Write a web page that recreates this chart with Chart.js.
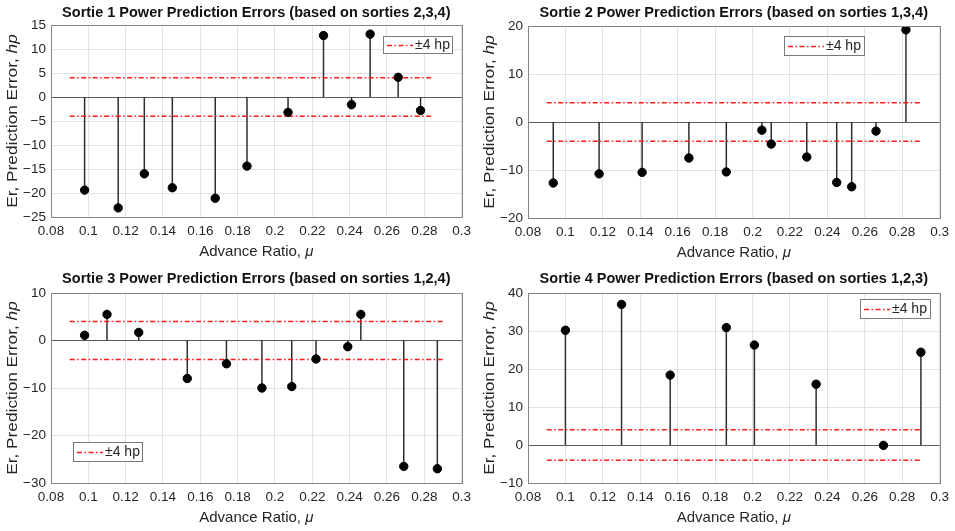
<!DOCTYPE html>
<html>
<head>
<meta charset="utf-8">
<title>Sortie Power Prediction Errors</title>
<script src="https://cdn.jsdelivr.net/npm/chart.js@4.4.1/dist/chart.umd.min.js"></script>
<style>
  html, body { margin: 0; padding: 0; background: #fff; }
  #wrap { position: relative; width: 955px; height: 531px; overflow: hidden; }
  canvas { position: absolute; }
</style>
</head>
<body>
<div id="wrap">
  <canvas id="c1" width="477" height="265" style="left:0;top:0"></canvas>
  <canvas id="c2" width="478" height="265" style="left:477px;top:0"></canvas>
  <canvas id="c3" width="477" height="266" style="left:0;top:265px"></canvas>
  <canvas id="c4" width="478" height="266" style="left:477px;top:265px"></canvas>
</div>
<script>
// --- data ---
const xTicks = [0.08, 0.1, 0.12, 0.14, 0.16, 0.18, 0.2, 0.22, 0.24, 0.26, 0.28, 0.3];
const band = 4; // +/- 4 hp limit lines

const s1Mu  = [0.098, 0.116, 0.130, 0.145, 0.168, 0.185, 0.207, 0.226, 0.241, 0.251, 0.266, 0.278];
const s1Err = [-19.4, -23.1, -16.0, -18.9, -21.1, -14.4, -3.2, 12.8, -1.6, 13.1, 4.1, -2.8];
const s1Ticks = [-25, -20, -15, -10, -5, 0, 5, 10, 15];
const s1Band = [0.09, 0.285];

const s2Mu  = [0.0935, 0.118, 0.141, 0.166, 0.186, 0.205, 0.210, 0.229, 0.245, 0.253, 0.266, 0.282];
const s2Err = [-12.7, -10.8, -10.5, -7.5, -10.4, -1.7, -4.6, -7.3, -12.6, -13.5, -1.9, 19.2];
const s2Ticks = [-20, -10, 0, 10, 20];
const s2Band = [0.09, 0.29];

const s3Mu  = [0.098, 0.110, 0.127, 0.153, 0.174, 0.193, 0.209, 0.222, 0.239, 0.246, 0.269, 0.287];
const s3Err = [1.1, 5.5, 1.7, -8.0, -4.9, -10.0, -9.7, -3.9, -1.3, 5.5, -26.5, -27.0];
const s3Ticks = [-30, -20, -10, 0, 10];
const s3Band = [0.09, 0.29];

const s4Mu  = [0.100, 0.130, 0.156, 0.186, 0.201, 0.234, 0.270, 0.290];
const s4Err = [30.2, 37.0, 18.4, 30.9, 26.3, 16.0, -0.1, 24.4];
const s4Ticks = [-10, 0, 10, 20, 30, 40];
const s4Band = [0.09, 0.29];

const FONT = '"Liberation Sans", Arial, Helvetica, sans-serif';
const TXT = '#262626';
const RED = '#ff1a1a';
const DASHDOT = [5, 2.5, 1.5, 2.5];

function fmt(v) { return String(+v.toFixed(2)).replace('-', '\u2212'); }

// draw text made of plain/italic pieces, centred on (x, y)
function drawRich(ctx, parts, x, y, size) {
  let total = 0;
  parts.forEach(p => {
    ctx.font = p[1] + size + 'px ' + FONT;
    total += ctx.measureText(p[0]).width;
  });
  let cx = x - total / 2;
  ctx.textAlign = 'left';
  parts.forEach(p => {
    ctx.font = p[1] + size + 'px ' + FONT;
    ctx.fillText(p[0], cx, y);
    cx += ctx.measureText(p[0]).width;
  });
}

const decoPlugin = {
  id: 'deco',
  afterDraw(chart, args, opts) {
    const ctx = chart.ctx;
    const a = chart.chartArea;
    ctx.save();

    // axes box
    ctx.strokeStyle = '#858585';
    ctx.lineWidth = 1;
    ctx.strokeRect(Math.round(a.left) + 0.5, Math.round(a.top) + 0.5,
      Math.round(a.right - a.left), Math.round(a.bottom - a.top));

    // title
    ctx.fillStyle = '#111';
    ctx.font = 'bold 14.5px ' + FONT;
    ctx.textAlign = 'center';
    ctx.textBaseline = 'middle';
    ctx.fillText(opts.title, (a.left + a.right) / 2, opts.titleY);

    // axis titles
    ctx.fillStyle = TXT;
    drawRich(ctx, [['Advance Ratio, ', ''], ['\u03bc', 'italic ']], (a.left + a.right) / 2, a.bottom + 35, 15);
    ctx.save();
    ctx.translate(13, (a.top + a.bottom) / 2);
    ctx.rotate(-Math.PI / 2);
    ctx.scale(1.15, 1);
    drawRich(ctx, [['Er, Prediction Error, ', ''], ['hp', 'italic ']], 0, 0, 15);
    ctx.restore();

    // legend
    const L = opts.legend;
    ctx.fillStyle = '#fff';
    ctx.fillRect(L.x, L.y, L.w, L.h);
    ctx.strokeStyle = '#7a7a7a';
    ctx.lineWidth = 1;
    ctx.strokeRect(L.x + 0.5, L.y + 0.5, L.w, L.h);
    ctx.strokeStyle = RED;
    ctx.lineWidth = 1.6;
    ctx.setLineDash(DASHDOT);
    ctx.beginPath();
    ctx.moveTo(L.x + 4, L.y + L.h / 2 + 1);
    ctx.lineTo(L.x + 4 + L.line, L.y + L.h / 2 + 1);
    ctx.stroke();
    ctx.setLineDash([]);
    ctx.fillStyle = TXT;
    ctx.font = '14px ' + FONT;
    ctx.textAlign = 'left';
    ctx.fillText('\u00b14 hp', L.x + 6 + L.line, L.y + L.h / 2 + 1);

    ctx.restore();
  }
};

function makeChart(id, mu, err, yTicks, bandX, deco, pad) {
  const stems = [];
  mu.forEach((m, i) => {
    stems.push({ x: m, y: 0 }, { x: m, y: err[i] }, { x: m, y: null });
  });
  const pts = mu.map((m, i) => ({ x: m, y: err[i] }));
  const limitLine = (v) => ({
    data: [{ x: bandX[0], y: v }, { x: bandX[1], y: v }],
    borderColor: RED,
    borderWidth: 1.6,
    borderDash: DASHDOT,
    pointRadius: 0
  });

  return new Chart(document.getElementById(id), {
    type: 'line',
    data: {
      datasets: [
        { data: pts, showLine: false, pointRadius: 4.2, pointBackgroundColor: '#000',
          pointBorderColor: '#000', pointBorderWidth: 1 },
        limitLine(band),
        limitLine(-band),
        { data: stems, borderColor: '#2e2e2e', borderWidth: 1.5, pointRadius: 0, spanGaps: false }
      ]
    },
    options: {
      responsive: false,
      animation: false,
      events: [],
      layout: { padding: { left: 0, right: pad.right, top: pad.top, bottom: 0 } },
      plugins: {
        legend: { display: false },
        tooltip: { enabled: false },
        deco: deco
      },
      scales: {
        x: {
          type: 'linear',
          min: xTicks[0],
          max: xTicks[xTicks.length - 1],
          afterBuildTicks: s => { s.ticks = xTicks.map(v => ({ value: v })); },
          afterFit: s => { s.height = pad.xh; },
          ticks: { callback: v => fmt(v), color: TXT, font: { family: FONT, size: 13.5 },
            padding: 6, maxRotation: 0, autoSkip: false },
          grid: { color: '#e2e2e2', drawTicks: false },
          border: { display: false }
        },
        y: {
          min: yTicks[0],
          max: yTicks[yTicks.length - 1],
          afterBuildTicks: s => { s.ticks = yTicks.map(v => ({ value: v })); },
          afterFit: s => { s.width = 51; },
          ticks: { callback: v => fmt(v), color: TXT, font: { family: FONT, size: 13.5 }, padding: 5 },
          grid: {
            color: c => (c.tick && c.tick.value === 0) ? '#5a5a5a' : '#e2e2e2',
            drawTicks: false
          },
          border: { display: false }
        }
      }
    },
    plugins: [decoPlugin]
  });
}

makeChart('c1', s1Mu, s1Err, s1Ticks, s1Band,
  { title: 'Sortie 1 Power Prediction Errors (based on sorties 2,3,4)', titleY: 13,
    legend: { x: 383, y: 36, w: 69, h: 17, line: 26 } },
  { right: 12, top: 25, xh: 48 });

makeChart('c2', s2Mu, s2Err, s2Ticks, s2Band,
  { title: 'Sortie 2 Power Prediction Errors (based on sorties 1,3,4)', titleY: 13,
    legend: { x: 307, y: 36, w: 80, h: 19, line: 36 } },
  { right: 13, top: 26, xh: 47 });

makeChart('c3', s3Mu, s3Err, s3Ticks, s3Band,
  { title: 'Sortie 3 Power Prediction Errors (based on sorties 1,2,4)', titleY: 14,
    legend: { x: 73, y: 177, w: 69, h: 19, line: 26 } },
  { right: 12, top: 28, xh: 48 });

makeChart('c4', s4Mu, s4Err, s4Ticks, s4Band,
  { title: 'Sortie 4 Power Prediction Errors (based on sorties 1,2,3)', titleY: 14,
    legend: { x: 383, y: 34, w: 70, h: 19, line: 26 } },
  { right: 14, top: 28, xh: 48 });
</script>
</body>
</html>
